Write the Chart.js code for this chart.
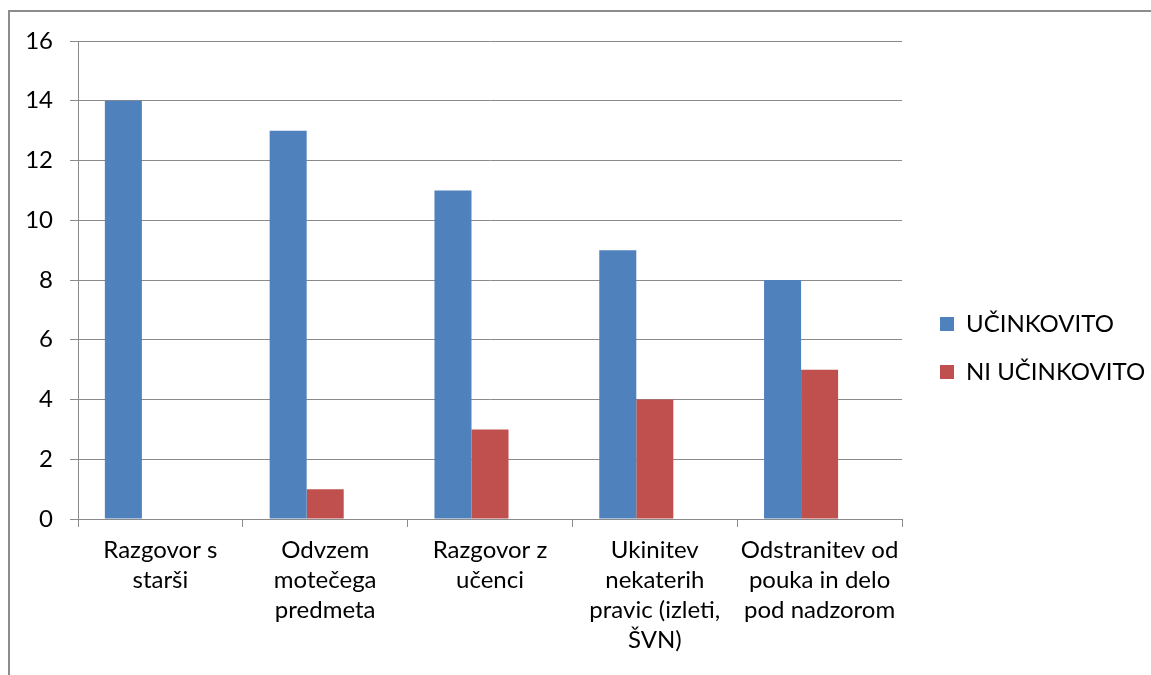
<!DOCTYPE html>
<html>
<head>
<meta charset="utf-8">
<script src="https://cdn.jsdelivr.net/npm/chart.js@4"></script>
<style>
  html, body { margin: 0; padding: 0; background: #fff; width: 1151px; height: 675px; overflow: hidden; }
  #frame { position: absolute; left: 8px; top: 10px; width: 1200px; height: 800px; border-left: 2px solid #8c8c8c; border-top: 2px solid #8c8c8c; }
  #wrap { position: absolute; left: 0; top: 0; width: 1151px; height: 675px; }
</style>
</head>
<body>
<div id="frame"></div>
<div id="wrap"><canvas id="c" width="1151" height="675"></canvas></div>
<script>
const categories = [
  ["Razgovor s", "starši"],
  ["Odvzem", "motečega", "predmeta"],
  ["Razgovor z", "učenci"],
  ["Ukinitev", "nekaterih", "pravic (izleti,", "ŠVN)"],
  ["Odstranitev od", "pouka in delo", "pod nadzorom"]
];
const seriesNames = ["UČINKOVITO", "NI UČINKOVITO"];
const ucinkovito = [14, 13, 11, 9, 8];
const niUcinkovito = [0, 1, 3, 4, 5];
const emptySeries = [null, null, null, null, null];
const yTicks = { min: 0, max: 16, step: 2 };

const GRID = '#8a8a8a';
const FONT = 'Lato';

const legendTweak = {
  id: 'legendTweak',
  afterInit(chart) {
    const lg = chart.legend;
    const fit = lg.fit.bind(lg);
    lg.fit = function () { fit(); this.width = 249; };
    const draw = lg.draw.bind(lg);
    lg.draw = function () {
      const ctx = this.ctx;
      ctx.save();
      ctx.translate(14, -10);
      draw();
      ctx.restore();
    };
  }
};

new Chart(document.getElementById('c'), {
  type: 'bar',
  data: {
    labels: categories,
    datasets: [
      { label: seriesNames[0], data: ucinkovito, backgroundColor: '#4F81BD', categoryPercentage: 0.674, barPercentage: 1 },
      { label: seriesNames[1], data: niUcinkovito, backgroundColor: '#C0504D', categoryPercentage: 0.674, barPercentage: 1 },
      { label: '', data: emptySeries, backgroundColor: 'rgba(0,0,0,0)', categoryPercentage: 0.674, barPercentage: 1 }
    ]
  },
  options: {
    responsive: false,
    animation: false,
    layout: { padding: { top: 41, left: 0, right: 0, bottom: 0 } },
    plugins: {
      tooltip: { enabled: false },
      legend: {
        position: 'right',
        labels: {
          filter: (item) => item.text !== '',
          boxWidth: 14, boxHeight: 14,
          padding: 24,
          color: '#000',
          font: { family: FONT, size: 24 }
        }
      }
    },
    scales: {
      x: {
        afterFit(s) { s.height = 156; },
        grid: { offset: true, drawOnChartArea: false, drawTicks: true, tickLength: 8, color: GRID, lineWidth: 1 },
        border: { display: true, color: GRID, width: 1 },
        ticks: { color: '#000', font: { family: FONT, size: 24, lineHeight: 1.25 }, padding: 8, maxRotation: 0, autoSkip: false }
      },
      y: {
        min: yTicks.min, max: yTicks.max,
        afterFit(s) { s.width = 78; },
        grid: { color: GRID, lineWidth: 1, tickLength: 8 },
        border: { display: true, color: GRID, width: 1 },
        ticks: { stepSize: yTicks.step, color: '#000', font: { family: FONT, size: 24 }, padding: 17 }
      }
    }
  },
  plugins: [legendTweak]
});
</script>
</body>
</html>
